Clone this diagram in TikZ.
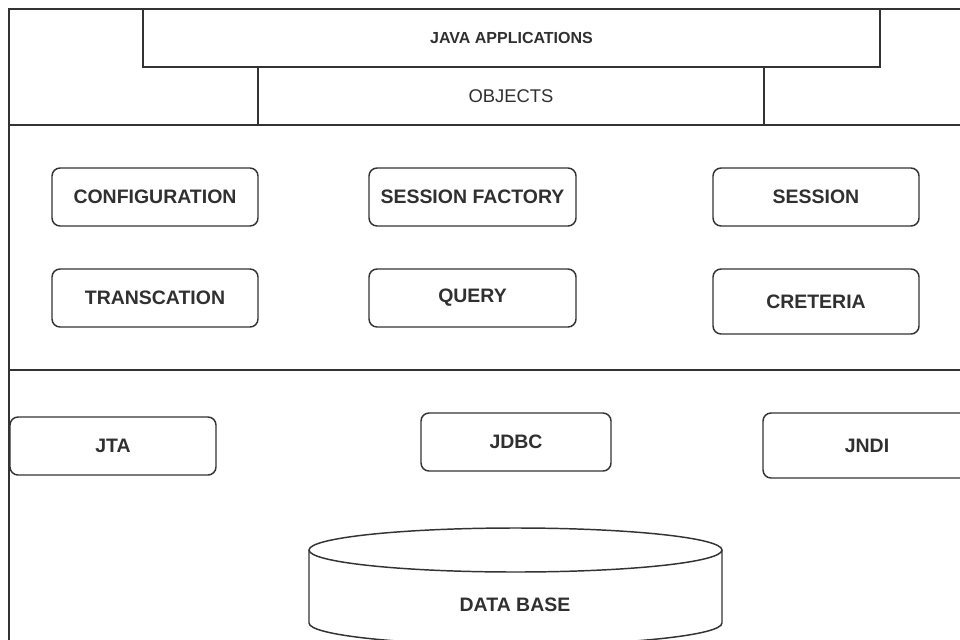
\documentclass[tikz,border=0pt]{standalone}
\usepackage{fontspec}
\setmainfont{Liberation Sans}
\definecolor{ink}{HTML}{333333}
\definecolor{txt}{HTML}{303030}
\begin{document}
\begin{tikzpicture}[x=0.75pt,y=-0.75pt,
  frame/.style={draw=ink, line width=1.5pt},
  band/.style={draw=ink, line width=1.3pt, inner sep=0pt, text=txt},
  box/.style={draw=ink, line width=1.1pt, rounded corners=6pt, fill=white,
    inner sep=0pt, minimum width=154.5pt, minimum height=43.5pt,
    text=txt, font=\fontsize{14.6}{16}\selectfont\bfseries},
  lbl/.style={inner sep=0pt, text=txt, font=\fontsize{14.6}{16}\selectfont\bfseries},
]
\useasboundingbox (0,0) rectangle (960,639);
\clip (0,0) rectangle (960,639);
\fill[white] (0,0) rectangle (960,639);

% outer frame and the two horizontal dividers
\draw[frame] (9,9) rectangle (990,660);
\draw[frame] (9,125) -- (990,125);
\draw[frame] (9,370) -- (990,370);

% top layer
\node[band, minimum width=552.75pt, minimum height=43.5pt,
      font=\fontsize{12}{14}\selectfont\bfseries] (app) at (511.5,38) {JAVA APPLICATIONS};
\node[band, minimum width=379.5pt, minimum height=43.5pt,
      font=\fontsize{13.8}{15}\selectfont] (obj) at (511,96) {OBJECTS};

% core components
\node[box] (cfg)  at (155,197)   {CONFIGURATION};
\node[box] (tx)   at (155,298)   {TRANSCATION};
\node[box, minimum width=155.25pt] (sf) at (472.5,197) {SESSION FACTORY};
\node[box, minimum width=155.25pt] (qry) at (472.5,298) {QUERY};
\node[box] (ses)  at (816,197)   {SESSION};
\node[box, minimum height=48.75pt] (crit) at (816,301.5) {CRETERIA};

% java services
\node[box] (jta)  at (113,446)   {JTA};
\node[box, minimum width=142.5pt] (jdbc) at (516,442) {JDBC};
\node[box, minimum width=156pt, minimum height=48.75pt] (jndi) at (867,445.5) {JNDI};

% database cylinder
\path[draw=ink, line width=1.1pt, fill=white]
  (309,550) -- (309,623) arc[start angle=180, end angle=0, x radius=206.5, y radius=22]
  -- (722,550);
\draw[ink, line width=1.1pt, fill=white] (515.5,550) ellipse[x radius=206.5, y radius=22];
\node[lbl] (db) at (515,605) {DATA BASE};
\end{tikzpicture}
\end{document}
